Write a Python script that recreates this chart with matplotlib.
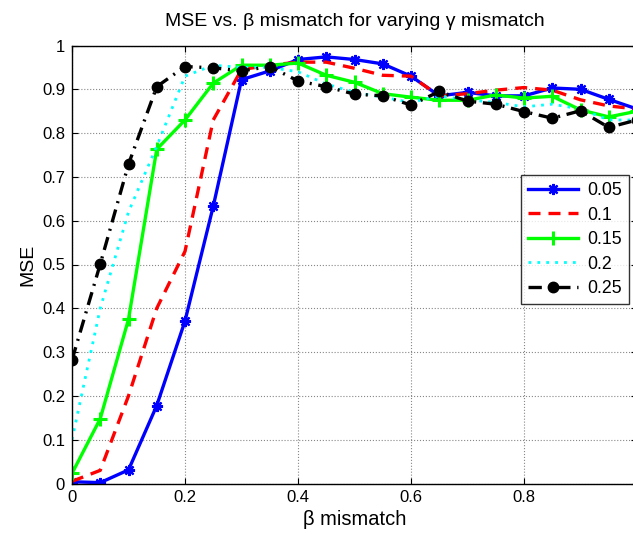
import matplotlib
matplotlib.use("Agg")
import matplotlib.pyplot as plt
import numpy as np

plt.rcParams['font.family'] = ['Liberation Sans', 'DejaVu Sans']

beta = [0.00, 0.05, 0.10, 0.15, 0.20, 0.25, 0.30, 0.35, 0.40, 0.45, 0.50,
        0.55, 0.60, 0.65, 0.70, 0.75, 0.80, 0.85, 0.90, 0.95, 1.00]

mse_005 = [0.004, 0.002, 0.031, 0.178, 0.371, 0.633, 0.922, 0.942, 0.968, 0.974, 0.968,
           0.958, 0.930, 0.885, 0.893, 0.885, 0.885, 0.903, 0.900, 0.877, 0.855]
mse_010 = [0.005, 0.030, 0.200, 0.400, 0.530, 0.830, 0.945, 0.955, 0.962, 0.962, 0.948,
           0.932, 0.930, 0.885, 0.890, 0.898, 0.904, 0.898, 0.876, 0.862, 0.855]
mse_015 = [0.023, 0.148, 0.375, 0.763, 0.830, 0.914, 0.955, 0.955, 0.960, 0.932, 0.916,
           0.890, 0.882, 0.875, 0.875, 0.887, 0.880, 0.884, 0.853, 0.837, 0.850]
mse_020 = [0.100, 0.400, 0.620, 0.770, 0.930, 0.955, 0.950, 0.950, 0.940, 0.912, 0.893,
           0.882, 0.870, 0.885, 0.876, 0.870, 0.860, 0.866, 0.855, 0.830, 0.830]
mse_025 = [0.282, 0.501, 0.729, 0.906, 0.952, 0.949, 0.942, 0.952, 0.919, 0.906, 0.889,
           0.885, 0.864, 0.895, 0.873, 0.866, 0.849, 0.834, 0.851, 0.813, 0.830]

labels = ['0.05', '0.1', '0.15', '0.2', '0.25']
xticks = [0, 0.2, 0.4, 0.6, 0.8]
xtick_labels = ['0', '0.2', '0.4', '0.6', '0.8']
yticks = [0, 0.1, 0.2, 0.3, 0.4, 0.5, 0.6, 0.7, 0.8, 0.9, 1.0]
ytick_labels = ['0', '0.1', '0.2', '0.3', '0.4', '0.5', '0.6', '0.7', '0.8', '0.9', '1']

fig = plt.figure(figsize=(6.33, 5.34), dpi=100)
ax = fig.add_axes([72/633, 50.5/534, 565/633, 438/534])

ax.plot(beta, mse_005, color='#0000ff', lw=2.4, marker=(8, 2, 0), ms=8, mew=1.6, label=labels[0])
ax.plot(beta, mse_010, color='#ff0000', lw=2.4, linestyle=(0, (3.6, 2.4)), label=labels[1])
ax.plot(beta, mse_015, color='#00ff00', lw=2.4, marker='+', ms=10, mew=2.2, label=labels[2])
ax.plot(beta, mse_020, color='#00ffff', lw=2.0, linestyle=(0, (1, 2.2)), label=labels[3])
ax.plot(beta, mse_025, color='black', lw=2.4, linestyle=(0, (4, 2, 0.6, 2)), marker='o', ms=7.5, label=labels[4])

ax.set_xlim(0, 1.0)
ax.set_ylim(0, 1.0)
ax.set_xticks(xticks)
ax.set_xticklabels(xtick_labels)
ax.set_yticks(yticks)
ax.set_yticklabels(ytick_labels)
ax.tick_params(direction='in', top=True, right=True, labelsize=12, length=4, pad=5)
ax.grid(True, linestyle=':', color='#555555', lw=0.8, alpha=0.7)

ax.set_title('MSE vs. β mismatch for varying γ mismatch', fontsize=14, pad=14)
ax.set_xlabel('β mismatch', fontsize=14.5, labelpad=3)
ax.set_ylabel('MSE', fontsize=14, labelpad=4)

leg = ax.legend(loc='upper right', bbox_to_anchor=(628/637, 1 - (175-45.5)/438),
                fontsize=12.8, frameon=True, fancybox=False, edgecolor='black',
                handlelength=2.8, borderpad=0.4, labelspacing=0.42, handletextpad=0.5,
                borderaxespad=0)
leg.get_frame().set_linewidth(1.0)
for sp in ax.spines.values():
    sp.set_linewidth(1.0)

fig.savefig('out.png', dpi=100)
